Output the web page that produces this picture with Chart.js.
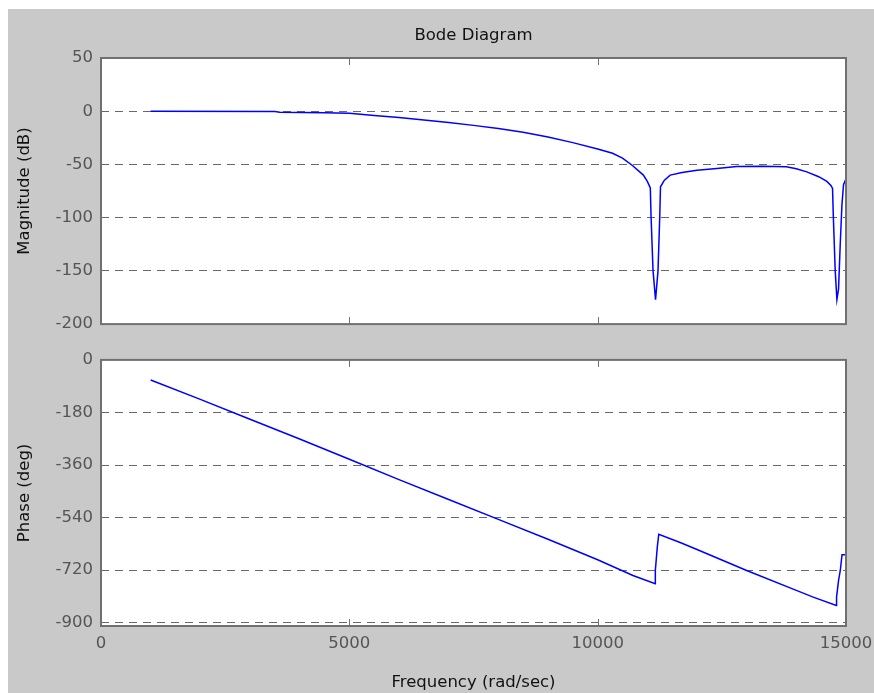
<!DOCTYPE html>
<html>
<head>
<meta charset="utf-8">
<script src="https://cdn.jsdelivr.net/npm/chart.js@4.4.1/dist/chart.umd.min.js"></script>
<style>
  body { margin: 0; background: #fff; }
  #fondo { position: absolute; left: 8px; top: 9px; width: 866px; height: 684px; background: #c9c9c9; }
  canvas { position: absolute; left: 0; }
  #cMag { top: 0; }
  #cFase { top: 342px; }
</style>
</head>
<body>
<div id="fondo"></div>
<canvas id="cMag" width="874" height="342"></canvas>
<canvas id="cFase" width="874" height="351"></canvas>
<script>
(function(){

// ---- datos
const magFreq = [1000, 3500, 3600, 4500, 5000, 5500, 6000, 6500, 7000, 7500, 8000, 8500, 9000, 9500, 10000, 10300, 10500, 10700, 10920, 11000, 11060,
                 11075, 11115, 11165, 11215, 11250, 11265, 11340, 11460, 11700, 12000, 12400, 12800, 13300, 13800, 14000, 14210, 14450, 14615, 14700, 14729,
                 14745, 14783, 14817, 14850, 14884, 14918, 14950, 14985, 15000];
const magDb = [0, -0.3, -1, -1.4, -2, -4, -6, -8.3, -10.7, -13.3, -16.2, -19.8, -24.3, -29.5, -35.5, -39.5, -44, -51, -60, -66, -72,
               -99, -150, -177, -150, -99, -71, -65, -60, -57.5, -55.5, -53.8, -52, -51.6, -52.2, -54, -57, -61.5, -66, -70, -72.5,
               -99, -150, -177, -167, -125, -88, -69, -65, -65];

const faseFreq = [1000, 2000, 3000, 4000, 5000, 6000, 7000, 8000, 9000, 10000, 10710, 11160, 11161, 11200, 11230, 11660, 12000, 13000, 14000, 14340,
                  14805, 14810, 14850, 14885, 14920, 15000];
const faseDeg = [-69, -135, -203, -271, -340, -410, -478, -546, -614, -684, -738, -766, -721, -642, -597, -625, -649, -721, -789, -812,
                 -841, -812, -755, -721, -667, -667];

const ticksMag = [50, 0, -50, -100, -150, -200];
const ticksFase = [0, -180, -360, -540, -720, -900];
const ticksFreq = [0, 5000, 10000, 15000];

const fuente = "'DejaVu Sans', sans-serif";

// ---- caja gris oscuro + marcas internas (estilo matlab)
const cajaPlugin = {
  id: 'caja',
  beforeDraw(chart){
    const a = chart.chartArea, c = chart.ctx;
    c.save();
    c.fillStyle = '#fff';
    c.fillRect(a.left, a.top, a.right - a.left, a.bottom - a.top);
    c.restore();
  },
  afterDraw(chart){
    const a = chart.chartArea, c = chart.ctx;
    const sx = chart.scales.x;
    c.save();
    c.strokeStyle = '#707070';
    c.lineWidth = 1;
    sx.ticks.forEach(t => {
      if (t.value <= sx.min || t.value >= sx.max) return;
      const px = Math.round(sx.getPixelForValue(t.value)) + 0.5;
      c.beginPath();
      c.moveTo(px, a.bottom); c.lineTo(px, a.bottom - 7);
      c.moveTo(px, a.top); c.lineTo(px, a.top + 7);
      c.stroke();
    });
    c.lineWidth = 2;
    c.strokeRect(a.left, a.top, a.right - a.left, a.bottom - a.top);
    // titulo centrado sobre el area del grafico
    const tit = chart.options.plugins.tituloCaja;
    if (tit && tit.text) {
      c.fillStyle = '#111';
      c.font = '16.5px ' + fuente;
      c.textAlign = 'center';
      c.textBaseline = 'middle';
      c.fillText(tit.text, (a.left + a.right) / 2, 36);
    }
    c.restore();
  }
};

function armarDatos(xs, ys){
  return xs.map((x, i) => ({x: x, y: ys[i]}));
}

function opciones(cfg){
  return {
    responsive: false,
    animation: false,
    layout: { padding: { left: 0, right: 28, top: cfg.padTop, bottom: 0 } },
    plugins: {
      legend: { display: false },
      tooltip: { enabled: false },
      title: { display: false },
      tituloCaja: { text: cfg.titulo }
    },
    scales: {
      x: {
        type: 'linear', min: 0, max: 15000,
        afterBuildTicks: s => { s.ticks = ticksFreq.map(v => ({value: v})); },
        afterFit: s => { s.height = cfg.altoX; s.paddingLeft = 0; s.paddingRight = 0; },
        grid: { display: false, drawTicks: false },
        border: { display: false },
        ticks: { display: cfg.verX, color: '#555', padding: 8, font: { family: fuente, size: 16.5 },
                 callback: v => String(v) },
        title: cfg.verX ? {
          display: true, text: 'Frequency (rad/sec)', color: '#111',
          font: { family: fuente, size: 16.5 }, padding: { top: 0, bottom: 0 }
        } : { display: false }
      },
      y: {
        min: cfg.min, max: cfg.max,
        afterBuildTicks: s => { s.ticks = cfg.ticks.map(v => ({value: v})); },
        afterFit: s => { s.width = 101; },
        grid: { color: '#686868', lineWidth: 1, drawTicks: false },
        border: { display: false, dash: [8, 6] },
        ticks: { color: '#555', padding: 8, font: { family: fuente, size: 16.5 },
                 callback: v => String(v) },
        title: {
          display: true, text: cfg.tituloY, color: '#111',
          font: { family: fuente, size: 16.5 }, padding: { top: 15, bottom: 0 }
        }
      }
    }
  };
}

function serie(xs, ys){
  return [{
    data: armarDatos(xs, ys),
    borderColor: '#0000ff',
    borderWidth: 1.5,
    pointRadius: 0,
    tension: 0,
    fill: false
  }];
}

new Chart(document.querySelector('#cMag'), {
  type: 'line',
  data: { datasets: serie(magFreq, magDb) },
  options: opciones({ titulo: 'Bode Diagram', padTop: 58, altoX: 14, verX: false,
                      min: -200, max: 50, ticks: ticksMag, tituloY: 'Magnitude (dB)' }),
  plugins: [cajaPlugin]
});

new Chart(document.querySelector('#cFase'), {
  type: 'line',
  data: { datasets: serie(faseFreq, faseDeg) },
  options: opciones({ titulo: null, padTop: 15, altoX: 67, verX: true,
                      min: -911, max: 0, ticks: ticksFase, tituloY: 'Phase (deg)' }),
  plugins: [cajaPlugin]
});

})();
</script>
</body>
</html>
